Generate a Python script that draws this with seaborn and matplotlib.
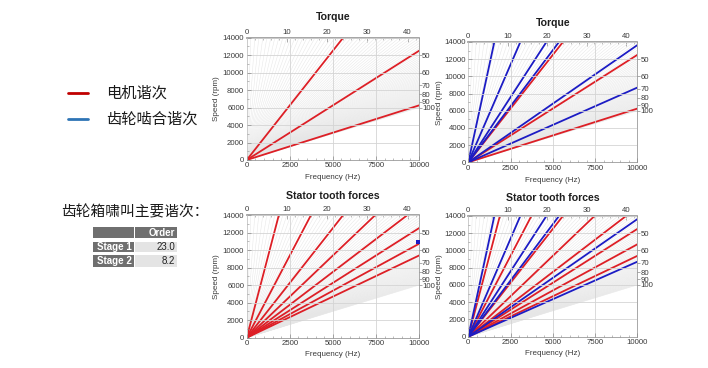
import numpy as np
import pandas as pd
import matplotlib
matplotlib.use("Agg")
import matplotlib.pyplot as plt
import seaborn as sns
from matplotlib.patches import Rectangle
from matplotlib.ticker import MultipleLocator

sns.set_theme(style="white")
plt.rcParams["font.family"] = ["Liberation Sans", "Noto Sans CJK SC", "DejaVu Sans"]

# ---------------- data ----------------
panel_titles = ["Torque", "Torque", "Stator tooth forces", "Stator tooth forces"]
motor_orders_torque = [24, 48, 96]
motor_orders_stator = [8, 16, 24, 32, 40, 48, 56, 64]
gear_orders = [6.6, 13.2, 19.8, 23.0, 44.0, 69.0]
background_orders = list(range(1, 101))
right_orders = [50, 60, 70, 80, 90, 100]
x_ticks = [0, 2500, 5000, 7500, 10000]
y_ticks = [0, 2000, 4000, 6000, 8000, 10000, 12000, 14000]
top_ticks = [0, 10, 20, 30, 40]
max_speed = 14000
max_freq = 10000
stray_freq = [9950]
stray_speed = [10950]
stage_names = ["Stage 1", "Stage 2"]
stage_orders = [23.0, 8.2]
legend_labels = ["电机谐次", "齿轮啮合谐次"]
heading = "齿轮箱啸叫主要谐次："

RED = "#dd1f26"
BLUE = "#1c1cc4"
W, H = 708, 368


def order_df(orders):
    rows = []
    for o in orders:
        rows.append((o, 0.0, 0.0))
        rows.append((o, o * max_speed / 60.0, float(max_speed)))
    return pd.DataFrame(rows, columns=["order", "freq", "rpm"])


fig = plt.figure(figsize=(W / 100, H / 100), dpi=100)
fig.patch.set_facecolor("white")

ov = fig.add_axes([0, 0, 1, 1])
ov.set_xlim(0, W)
ov.set_ylim(H, 0)
ov.axis("off")
ov.set_zorder(-5)


def rect(l, r, t, b):
    return [l / W, 1 - b / H, (r - l) / W, (b - t) / H]


def panel(box, title, title_xy, xlab_y, ylab_x, red, blue, stray=False):
    l, r, t, b = box
    ax = fig.add_axes(rect(l, r, t, b))
    ax.set_facecolor("white")
    sns.lineplot(data=order_df(background_orders), x="freq", y="rpm", units="order",
                 estimator=None, sort=False, color="#e6e6e6", lw=0.35, ax=ax, legend=False)
    if red:
        sns.lineplot(data=order_df(red), x="freq", y="rpm", units="order",
                     estimator=None, sort=False, color=RED, lw=1.3, ax=ax, legend=False)
    if blue:
        sns.lineplot(data=order_df(blue), x="freq", y="rpm", units="order",
                     estimator=None, sort=False, color=BLUE, lw=1.3, ax=ax, legend=False)
    if stray:
        sns.scatterplot(x=stray_freq, y=stray_speed, color=BLUE, marker="s", s=7,
                        ax=ax, legend=False, linewidth=0, clip_on=False, zorder=5)
    ax.set_xlim(0, max_freq)
    ax.set_ylim(0, max_speed)
    ax.set_xticks(x_ticks)
    ax.set_yticks(y_ticks)
    ax.xaxis.set_minor_locator(MultipleLocator(500))
    ax.yaxis.set_minor_locator(MultipleLocator(1000))
    ax.grid(True, which="major", color="#d4d4d4", lw=0.6)
    ax.set_axisbelow(False)
    ax.set_xlabel("")
    ax.set_ylabel("")
    ax.tick_params(axis="both", which="major", direction="in", length=3, width=0.5,
                   labelsize=5.6, colors="#8a8a8a", labelcolor="#3a3a3a", pad=1.8,
                   bottom=True, left=True)
    ax.tick_params(axis="both", which="minor", direction="in", length=1.5, width=0.4,
                   colors="#8a8a8a", bottom=True, left=True)
    for s in ax.spines.values():
        s.set_color("#9a9a9a")
        s.set_linewidth(0.6)
    sec = ax.secondary_xaxis("top", functions=(lambda f: f * 60.0 / max_speed,
                                               lambda o: o * max_speed / 60.0))
    sec.set_xticks(top_ticks)
    sec.xaxis.set_minor_locator(MultipleLocator(2))
    sec.tick_params(axis="x", which="major", direction="in", length=3, width=0.5,
                    labelsize=5.6, colors="#8a8a8a", labelcolor="#3a3a3a", pad=1.5)
    sec.tick_params(axis="x", which="minor", direction="in", length=1.5, width=0.4,
                    colors="#8a8a8a")
    sec.spines["top"].set_color("#9a9a9a")
    ax2 = ax.twinx()
    ax2.set_ylim(0, max_speed)
    ax2.set_yticks([max_freq * 60.0 / o for o in right_orders])
    ax2.set_yticklabels([str(o) for o in right_orders])
    ax2.grid(False)
    ax2.tick_params(axis="y", direction="out", length=1.8, width=0.5, labelsize=5.6,
                    colors="#8a8a8a", labelcolor="#3a3a3a", pad=0.4, right=True)
    for s in ax2.spines.values():
        s.set_visible(False)
    ov.text(title_xy[0], title_xy[1], title, ha="center", va="center",
            fontsize=7.6, fontweight="bold", color="#1e1e1e")
    ov.text((l + r) / 2, xlab_y, "Frequency (Hz)", ha="center", va="center",
            fontsize=5.8, color="#3a3a3a")
    ov.text(ylab_x, (t + b) / 2, "Speed (rpm)", ha="center", va="center",
            rotation=90, fontsize=5.8, color="#3a3a3a")
    return ax


panel((246.7, 419, 37.7, 160), panel_titles[0], (332.7, 17.3), 177.3, 216,
      motor_orders_torque, None)
panel((468.3, 637.3, 42, 162.3), panel_titles[1], (552.7, 22.7), 180, 439.5,
      motor_orders_torque, gear_orders)
panel((246.7, 419, 215, 337.7), panel_titles[2], (332.7, 195.7), 355, 216,
      motor_orders_stator, None, stray=True)
panel((468.3, 637.3, 216, 336.7), panel_titles[3], (553.3, 197.7), 353.3, 439.5,
      motor_orders_stator, gear_orders)

# ---------------- left legend ----------------
leg_colors = ["#c00000", "#2e74b5"]
for i, (lab, c) in enumerate(zip(legend_labels, leg_colors)):
    y = 92.7 + i * 26.6
    ov.plot([68, 88], [y, y], color=c, lw=2)
    ov.text(106, y, lab, ha="left", va="center", fontsize=11,
            family=["Noto Sans CJK SC", "DejaVu Sans"], color="#1a1a1a")

ov.text(61, 212, heading, ha="left", va="center", fontsize=10.6,
        family=["Noto Sans CJK SC", "DejaVu Sans"], color="#1a1a1a")

# ---------------- table ----------------
DARK = "#6f6f6f"
LIGHT = "#e4e4e4"
c1 = (93.3, 134)
c2 = (135.3, 176.7)
hdr = (227.3, 237.7)
rows_y = [(241.7, 252.3), (255, 266.7)]
for cx in (c1, c2):
    ov.add_patch(Rectangle((cx[0], hdr[0]), cx[1] - cx[0], hdr[1] - hdr[0],
                           facecolor=DARK, edgecolor="none"))
ov.text(c2[1] - 2, (hdr[0] + hdr[1]) / 2, "Order", ha="right", va="center",
        fontsize=7, fontweight="bold", color="white")
for (ya, yb), name, val in zip(rows_y, stage_names, stage_orders):
    ov.add_patch(Rectangle((c1[0], ya), c1[1] - c1[0], yb - ya,
                           facecolor=DARK, edgecolor="none"))
    ov.add_patch(Rectangle((c2[0], ya), c2[1] - c2[0], yb - ya,
                           facecolor=LIGHT, edgecolor="none"))
    ov.text(c1[1] - 2, (ya + yb) / 2, name, ha="right", va="center",
            fontsize=7, fontweight="bold", color="white")
    ov.text(c2[1] - 1.5, (ya + yb) / 2, f"{val:.1f}", ha="right", va="center",
            fontsize=7, color="#222222")

fig.savefig("out.png", dpi=100, facecolor="white")
